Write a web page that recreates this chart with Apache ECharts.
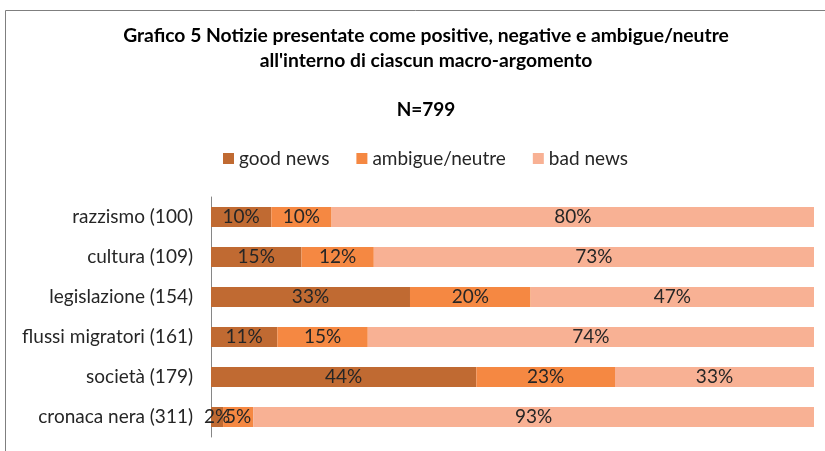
<!DOCTYPE html>
<html>
<head>
<meta charset="utf-8">
<script src="https://cdn.jsdelivr.net/npm/echarts@6/dist/echarts.min.js"></script>
<style>
  html, body { margin: 0; padding: 0; background: #fff; }
  #chart { width: 825px; height: 451px; }
</style>
</head>
<body>
<div id="chart"></div>
<script>
const categories = ['razzismo (100)', 'cultura (109)', 'legislazione (154)', 'flussi migratori (161)', 'società (179)', 'cronaca nera (311)'];
const goodNews = [10, 15, 33, 11, 44, 2];
const ambigue = [10, 12, 20, 15, 23, 5];
const badNews = [80, 73, 47, 74, 33, 93];

const font = 'Lato, "Open Sans", sans-serif';

const labelStyle = {
  show: true,
  position: 'inside',
  formatter: p => p.value + '%',
  color: '#262626',
  fontFamily: font,
  fontSize: 19
};

function bar(name, data, color) {
  return {
    type: 'bar',
    name: name,
    stack: 'total',
    data: data,
    barWidth: 20,
    itemStyle: { color: color },
    label: labelStyle
  };
}

const chart = echarts.init(document.getElementById('chart'));
chart.setOption({
  animation: false,
  title: {
    text: 'Grafico 5 Notizie presentate come positive, negative e ambigue/neutre\nall\'interno di ciascun macro-argomento',
    subtext: 'N=799',
    left: 421,
    textAlign: 'center',
    top: 18,
    itemGap: 27,
    textStyle: { fontFamily: font, fontSize: 19.3, fontWeight: 'bold', color: '#000', lineHeight: 25 },
    subtextStyle: { fontFamily: font, fontSize: 19, fontWeight: 'bold', color: '#000' }
  },
  legend: {
    top: 144,
    left: 218,
    itemWidth: 11,
    itemHeight: 11,
    itemGap: 27,
    icon: 'rect',
    textStyle: { fontFamily: font, fontSize: 19, color: '#262626' }
  },
  grid: { left: 211, right: 11, top: 197, height: 240 },
  xAxis: {
    type: 'value',
    min: 0,
    max: 100,
    show: false
  },
  yAxis: {
    type: 'category',
    data: categories,
    inverse: true,
    axisLine: { show: true, lineStyle: { color: '#868686' } },
    axisTick: { show: false },
    axisLabel: { fontFamily: font, fontSize: 19, color: '#262626', margin: 18 }
  },
  graphic: [
    { type: 'line', shape: { x1: 5.5, y1: 10.5, x2: 825, y2: 10.5 }, style: { stroke: '#7f7f7f', lineWidth: 1 } },
    { type: 'line', shape: { x1: 5.5, y1: 10.5, x2: 5.5, y2: 451 }, style: { stroke: '#7f7f7f', lineWidth: 1 } }
  ],
  series: [
    bar('good news', goodNews, '#C06A32'),
    bar('ambigue/neutre', ambigue, '#F58842'),
    bar('bad news', badNews, '#F8B194')
  ]
});
</script>
</body>
</html>
